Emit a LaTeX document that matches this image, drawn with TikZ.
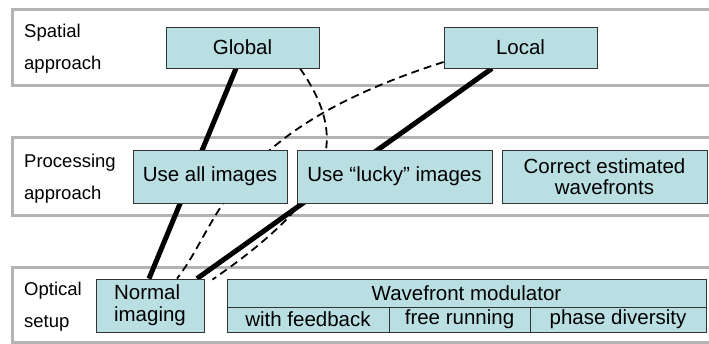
\documentclass[tikz,border=0pt]{standalone}
\usepackage{fontspec}
\setmainfont{Liberation Sans}
\pgfdeclarelayer{framelayer}
\pgfdeclarelayer{linklayer}
\pgfsetlayers{framelayer,linklayer,main}
\definecolor{boxfill}{RGB}{185,223,227}
\definecolor{framegray}{RGB}{179,179,179}
\begin{document}
\begin{tikzpicture}[x=1pt,y=-1pt,
  box/.style={draw=black!80, line width=0.8pt, fill=boxfill, inner sep=0pt,
    font=\fontsize{20.5}{22}\selectfont},
  lbl/.style={anchor=base west, inner sep=0pt, font=\fontsize{18.5}{22}\selectfont},
  band/.style={draw=framegray, line width=3pt},
  heavylink/.style={line width=5pt},
  dashlink/.style={line width=1.8pt, dash pattern=on 8pt off 5pt}]
\useasboundingbox (0,0) rectangle (709,343);

% boxes
\node[box, minimum width=153pt, minimum height=41pt] (global) at (242.5,47.5) {Global};
\node[box, minimum width=153pt, minimum height=41pt] (local) at (520.5,47.5) {Local};
\node[box, minimum width=154pt, minimum height=53pt] (allimg) at (210,176.5) {Use all images};
\node[box, minimum width=195pt, minimum height=53pt] (lucky) at (394.5,176.5) {Use “lucky” images};
\node[box, minimum width=205pt, minimum height=53pt, align=center,
  font=\fontsize{20.5}{20.5}\selectfont] (correct) at (604.5,176.5) {Correct estimated\\wavefronts};
\node[box, minimum width=108pt, minimum height=53pt, align=left] (normal) at (150,305.5) {Normal\\imaging};
\node[box, minimum width=479pt, minimum height=28pt] (wfm) at (466.5,293) {Wavefront modulator};
\node[box, minimum width=162pt, minimum height=25pt] (feedback) at (308,319.5) {with feedback};
\node[box, minimum width=141pt, minimum height=25pt] (freerun) at (459.5,319.5) {free running};
\node[box, minimum width=176pt, minimum height=25pt] (phase) at (618,319.5) {phase diversity};

% labels
\node[lbl] (spatial1) at (24,37.5) {Spatial};
\node[lbl] (spatial2) at (24,69.5) {approach};
\node[lbl] (proc1) at (24,167) {Processing};
\node[lbl] (proc2) at (24,199) {approach};
\node[lbl] (opt1) at (24,295) {Optical};
\node[lbl] (opt2) at (24,327) {setup};

% connectors
\begin{pgfonlayer}{linklayer}
\draw[heavylink] ([xshift=-6.5pt]global.south) -- ([xshift=-1pt]normal.north);
\draw[heavylink] ([xshift=-28.5pt]local.south) -- ([xshift=47pt]normal.north);
\draw[dashlink] ([xshift=57.5pt]global.south) .. controls (350,140) and (335,195) .. ([xshift=8pt,yshift=-1pt]normal.north east);
\draw[dashlink] ([yshift=-14.5pt]local.west) .. controls (224,132) and (222,221) .. ([xshift=27pt]normal.north);
\end{pgfonlayer}

% frames
\begin{pgfonlayer}{framelayer}
\draw[band] (12.5,9) rectangle (740,85);
\draw[band] (12.5,137.5) rectangle (740,215);
\draw[band] (12.5,267) rectangle (740,342.5);
\end{pgfonlayer}
\end{tikzpicture}
\end{document}
